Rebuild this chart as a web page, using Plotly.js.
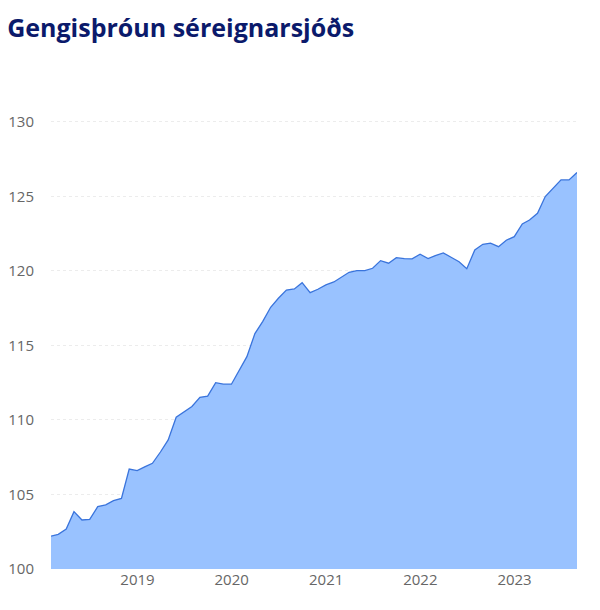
<!DOCTYPE html>
<html>
<head>
<meta charset="utf-8">
<script src="https://cdn.plot.ly/plotly-3.0.1.min.js"></script>
<style>
  html, body { margin: 0; padding: 0; background: #fff; }
  #graph { width: 600px; height: 610px; }
</style>
</head>
<body>
<div id="graph"></div>
<script>
// month-end dates, Jan 2018 .. Aug 2023
var dates = [
  '2018-01-31','2018-02-28','2018-03-31','2018-04-30','2018-05-31','2018-06-30',
  '2018-07-31','2018-08-31','2018-09-30','2018-10-31','2018-11-30','2018-12-31',
  '2019-01-31','2019-02-28','2019-03-31','2019-04-30','2019-05-31','2019-06-30',
  '2019-07-31','2019-08-31','2019-09-30','2019-10-31','2019-11-30','2019-12-31',
  '2020-01-31','2020-02-29','2020-03-31','2020-04-30','2020-05-31','2020-06-30',
  '2020-07-31','2020-08-31','2020-09-30','2020-10-31','2020-11-30','2020-12-31',
  '2021-01-31','2021-02-28','2021-03-31','2021-04-30','2021-05-31','2021-06-30',
  '2021-07-31','2021-08-31','2021-09-30','2021-10-31','2021-11-30','2021-12-31',
  '2022-01-31','2022-02-28','2022-03-31','2022-04-30','2022-05-31','2022-06-30',
  '2022-07-31','2022-08-31','2022-09-30','2022-10-31','2022-11-30','2022-12-31',
  '2023-01-31','2023-02-28','2023-03-31','2023-04-30','2023-05-31','2023-06-30',
  '2023-07-31','2023-08-31'
];

var gengi = [
  102.20, 102.33, 102.68, 103.85, 103.29, 103.33, 104.18, 104.30, 104.59, 104.74, 106.71, 106.60,
  106.87, 107.09, 107.85, 108.66, 110.18, 110.56, 110.90, 111.52, 111.60, 112.50, 112.40, 112.40,
  113.36, 114.25, 115.80, 116.60, 117.56, 118.17, 118.72, 118.79, 119.21, 118.54, 118.77, 119.06,
  119.26, 119.55, 119.91, 120.02, 120.02, 120.18, 120.69, 120.52, 120.89, 120.83, 120.81, 121.12,
  120.83, 121.03, 121.21, 120.92, 120.62, 120.15, 121.41, 121.79, 121.86, 121.63, 122.06, 122.30,
  123.15, 123.42, 123.87, 124.99, 125.55, 126.11, 126.11, 126.60
];

var yTicks = [100, 105, 110, 115, 120, 125, 130];
var xTicks = ['2019-01-01', '2020-01-01', '2021-01-01', '2022-01-01', '2023-01-01'];
var xTickText = ['2019', '2020', '2021', '2022', '2023'];

var trace = {
  x: dates,
  y: gengi,
  type: 'scatter',
  mode: 'lines',
  fill: 'tozeroy',
  fillcolor: '#99c2ff',
  line: { color: '#3a74dc', width: 1.3 },
  hoverinfo: 'x+y'
};

var layout = {
  width: 600,
  height: 610,
  margin: { l: 51, r: 23, t: 107, b: 41 },
  paper_bgcolor: '#ffffff',
  plot_bgcolor: '#ffffff',
  font: { family: '"Open Sans", "Noto Sans", sans-serif', color: '#666666', size: 15 },
  title: {
    text: '<b>Gengisþróun séreignarsjóðs</b>',
    font: { family: '"Open Sans", "Noto Sans", sans-serif', size: 25, color: '#0b1a6b' },
    xref: 'container', x: 0.012, xanchor: 'left',
    yref: 'container', y: 0.968, yanchor: 'top'
  },
  showlegend: false,
  xaxis: {
    type: 'date',
    range: ['2018-01-31', '2023-08-31'],
    tickmode: 'array',
    tickvals: xTicks,
    ticktext: xTickText,
    showgrid: false,
    zeroline: false,
    showline: false,
    ticks: '',
    tickfont: { size: 15, color: '#666666' }
  },
  yaxis: {
    range: [100, 131],
    tickmode: 'array',
    tickvals: yTicks,
    showgrid: true,
    gridcolor: '#ececec',
    griddash: 'dot',
    gridwidth: 1,
    zeroline: false,
    showline: false,
    ticks: '',
    ticklabelstandoff: 16,
    tickfont: { size: 15, color: '#666666' }
  }
};

Plotly.newPlot('graph', [trace], layout, { displayModeBar: false, staticPlot: true });
</script>
</body>
</html>
